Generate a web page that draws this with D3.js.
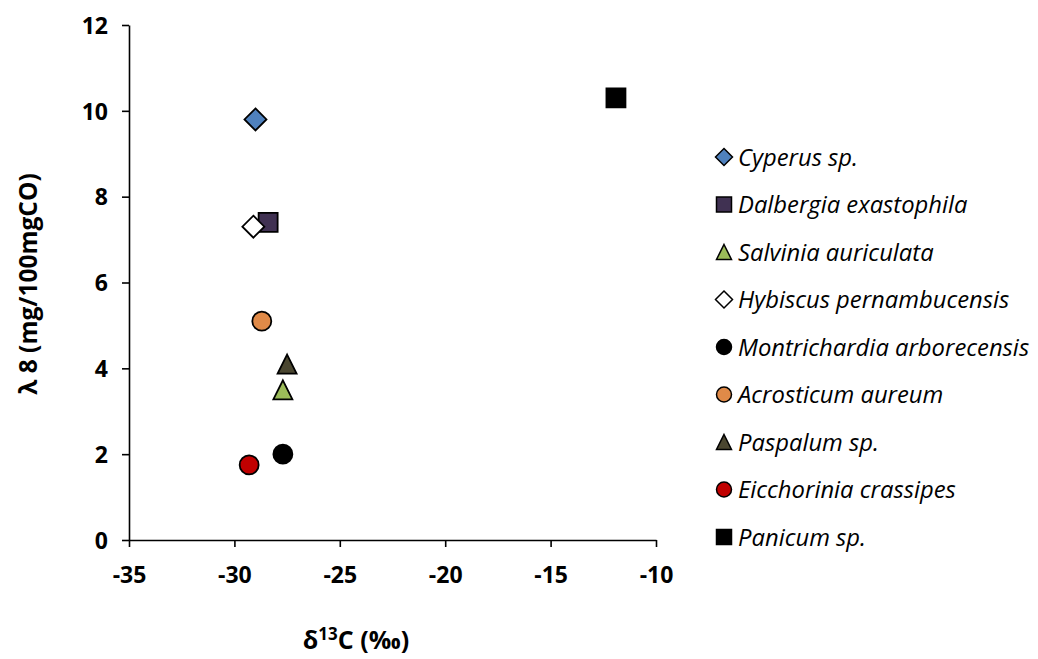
<!DOCTYPE html>
<html>
<head>
<meta charset="utf-8">
<script src="https://cdn.jsdelivr.net/npm/d3@7"></script>
<style>
  html, body { margin: 0; padding: 0; background: #fff; }
  svg { display: block; }
  .tick text { font-family: "Open Sans", "Liberation Sans", sans-serif; font-weight: bold; }
</style>
</head>
<body>
<svg id="chart" width="1038" height="659"></svg>
<script>
// Species (legend order), their δ13C and λ8 values, and marker styles
const species = [
  "Cyperus sp.", "Dalbergia exastophila", "Salvinia auriculata",
  "Hybiscus pernambucensis", "Montrichardia arborecensis", "Acrosticum aureum",
  "Paspalum sp.", "Eicchorinia crassipes", "Panicum sp."
];
const delta13C = [-29.0, -28.4, -27.7, -29.1, -27.7, -28.7, -27.5, -29.3, -11.9];
const lambda8  = [9.8, 7.4, 3.5, 7.3, 2.0, 5.1, 4.1, 1.75, 10.3];
const shapes   = ["diamond", "square", "triangle", "diamond", "circle", "circle", "triangle", "circle", "square"];
const fills    = ["#4F81BD", "#403152", "#9BBB59", "#FFFFFF", "#000000", "#E08A48", "#4A4630", "#C00000", "#000000"];

const xTicks = [-35, -30, -25, -20, -15, -10];
const yTicks = [0, 2, 4, 6, 8, 10, 12];

const svg = d3.select("#chart");
const margin = { left: 129, top: 25, right: 656, bottom: 540 };

const x = d3.scaleLinear().domain([-35, -10]).range([margin.left, margin.right]);
const y = d3.scaleLinear().domain([0, 12]).range([margin.bottom, margin.top]);

// Path generator for a marker of a given shape, centred on the origin
function markerPath(shape, s) {
  const h = s / 2;
  if (shape === "diamond") return `M0,${-h}L${h},0L0,${h}L${-h},0Z`;
  if (shape === "square") return `M${-h},${-h}H${h}V${h}H${-h}Z`;
  if (shape === "triangle") return `M0,${-h}L${h},${h}L${-h},${h}Z`;
  return d3.arc()({ innerRadius: 0, outerRadius: h, startAngle: 0, endAngle: 2 * Math.PI });
}

// Axes (plain hyphen for negative numbers)
const fmt = d => String(d);
const xAxis = d3.axisBottom(x).tickValues(xTicks).tickFormat(fmt).tickSize(7).tickSizeOuter(0).tickPadding(20);
const yAxis = d3.axisLeft(y).tickValues(yTicks).tickFormat(fmt).tickSize(7).tickSizeOuter(0).tickPadding(14);

const gx = svg.append("g").attr("transform", `translate(0,${margin.bottom})`).call(xAxis);
const gy = svg.append("g").attr("transform", `translate(${margin.left},0)`).call(yAxis);
[gx, gy].forEach(g => {
  g.select(".domain").attr("stroke", "#000").attr("stroke-width", 1.6);
  g.selectAll(".tick line").attr("stroke", "#000").attr("stroke-width", 1.6);
  g.selectAll(".tick text").attr("font-size", 23).attr("fill", "#000");
});
gy.selectAll(".tick text").attr("dy", "0.36em");

// Axis titles
svg.append("text")
  .attr("transform", `translate(37,284) rotate(-90)`)
  .attr("text-anchor", "middle")
  .attr("font-family", "'Open Sans', 'Liberation Sans', sans-serif")
  .attr("font-weight", "bold").attr("font-size", 24.5)
  .text("λ 8 (mg/100mgCO)");

const xt = svg.append("text")
  .attr("x", 356).attr("y", 649)
  .attr("text-anchor", "middle")
  .attr("font-family", "'Open Sans', 'Liberation Sans', sans-serif")
  .attr("font-weight", "bold").attr("font-size", 25);
xt.append("tspan").text("δ");
xt.append("tspan").attr("dy", -9).attr("font-size", 17).text("13");
xt.append("tspan").attr("dy", 9).text("C (‰)");

// Data points
const pts = species.map((name, i) => ({ name, x: delta13C[i], y: lambda8[i], shape: shapes[i], fill: fills[i] }));
svg.append("g").selectAll("path")
  .data(pts)
  .join("path")
  .attr("transform", d => `translate(${x(d.x)},${y(d.y)})`)
  .attr("d", d => markerPath(d.shape, d.shape === "diamond" ? 22 : 19))
  .attr("fill", d => d.fill)
  .attr("stroke", "#000")
  .attr("stroke-width", 1.8);

// Legend
const legend = svg.append("g").attr("transform", "translate(724,157)");
const item = legend.selectAll("g")
  .data(pts)
  .join("g")
  .attr("transform", (d, i) => `translate(0,${i * 47.5})`);
item.append("path")
  .attr("d", d => markerPath(d.shape, d.shape === "diamond" ? 17 : 15))
  .attr("fill", d => d.fill)
  .attr("stroke", "#000")
  .attr("stroke-width", 1.5);
item.append("text")
  .attr("x", 14).attr("dy", "0.36em")
  .attr("font-family", "'Open Sans', Lato, sans-serif")
  .attr("font-style", "italic").attr("font-size", 23.8)
  .text(d => d.name);
</script>
</body>
</html>
